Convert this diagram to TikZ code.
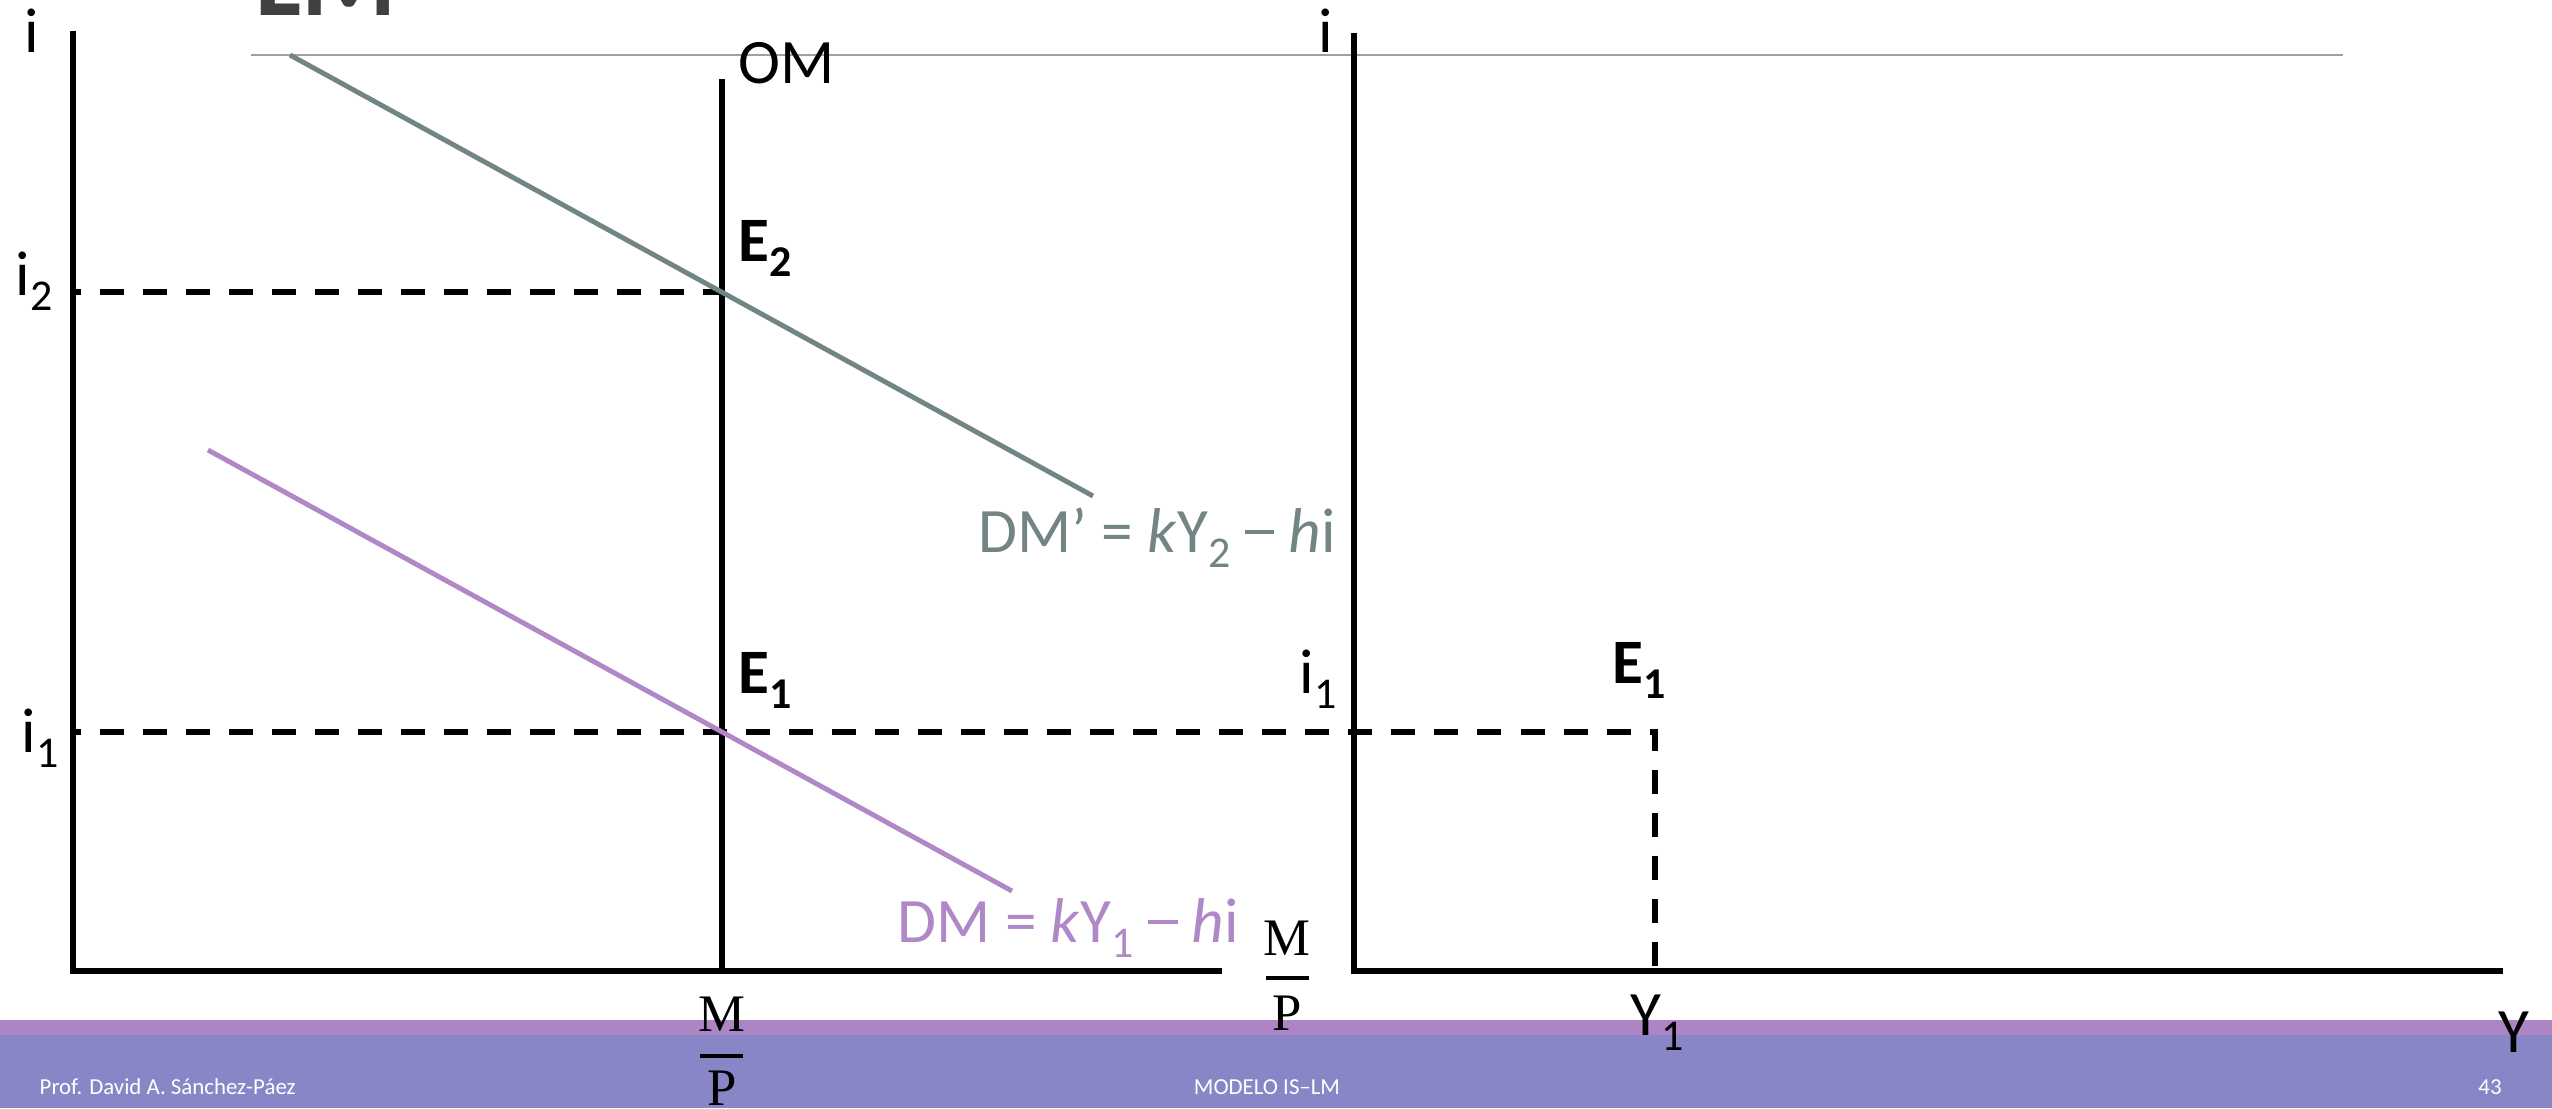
\documentclass[tikz,border=0pt]{standalone}
\usepackage{fontspec}
\setmainfont{Carlito}
\newfontfamily\fracserif{Liberation Serif}
\definecolor{dmgray}{RGB}{114,132,132}
\definecolor{dmpurple}{RGB}{176,136,200}
\definecolor{barlight}{RGB}{173,133,197}
\definecolor{bardark}{RGB}{136,134,198}
\definecolor{rulegray}{RGB}{160,160,160}
\definecolor{titlegray}{RGB}{64,64,64}
\newcommand{\lowsub}[1]{\raisebox{-4.5pt}{\fontsize{12.5}{12.5}\selectfont #1}}
\newcommand{\longminus}{\raisebox{0.29em}{\rule{0.47em}{0.065em}}}
\tikzset{
  axis/.style={line width=1.75pt, black},
  omline/.style={line width=1.5pt, black},
  dashline/.style={line width=1.7pt, black, dash pattern=on 6.83pt off 5.41pt, dash phase=4.55pt},
  rule/.style={line width=0.6pt, rulegray},
  dmtwo/.style={line width=1.4pt, dmgray},
  dmone/.style={line width=1.4pt, dmpurple},
  lbl/.style={font=\fontsize{18}{20}\selectfont, anchor=base west, inner sep=0pt},
  blbl/.style={lbl, font=\fontsize{18}{20}\selectfont\bfseries},
  serifl/.style={font=\fracserif\fontsize{15}{16}\selectfont, anchor=base, inner sep=0pt},
  fracbar/.style={line width=1.15pt, black},
  foot/.style={font=\fontsize{6.5}{7}\selectfont, text=white, inner sep=0pt, anchor=base},
  titletext/.style={font=\fontsize{31}{34}\selectfont\bfseries, text=titlegray, anchor=base west, inner sep=0pt}
}
\begin{document}
\begin{tikzpicture}[x=0.01cm,y=-0.01cm]
\useasboundingbox (0,0) rectangle (2552,1108);
\clip (0,0) rectangle (2552,1108);
% footer bands
\fill[barlight] (0,1020) rectangle (2552,1035);
\fill[bardark] (0,1035) rectangle (2552,1108);
% title (cut off at top)
\node[titletext] (title) at (255,15) {LM};
% thin gray rule
\coordinate (r1) at (251,55);
\coordinate (r2) at (2343,55);
\draw[rule] (r1) -- (r2);
% left axes
\coordinate (Ltop) at (73,31);
\coordinate (O1) at (73,971);
\coordinate (Lend) at (1222,971);
\draw[axis] (Ltop) -- (O1) -- (Lend);
% right axes
\coordinate (Rtop) at (1354,33);
\coordinate (O2) at (1354,971);
\coordinate (Rend) at (2503,971);
\draw[axis] (Rtop) -- (O2) -- (Rend);
% money supply OM
\coordinate (OMtop) at (722,79);
\coordinate (OMbot) at (722,971);
\draw[omline] (OMtop) -- (OMbot);
% equilibrium points and dashed guides
\coordinate (E2) at (722,292);
\coordinate (E1) at (722,732);
\coordinate (i2a) at (73,292);
\coordinate (i1a) at (73,732);
\coordinate (E1r) at (1655,732);
\coordinate (Y1b) at (1655,971);
\draw[dashline] (i2a) -- (E2);
\draw[dashline] (i1a) -- (E1r) -- (Y1b);
% money demand lines
\coordinate (dm2a) at (290,55);
\coordinate (dm2b) at (1093,496);
\draw[dmtwo] (dm2a) -- (dm2b);
\coordinate (dm1a) at (208,450);
\coordinate (dm1b) at (1012,891);
\draw[dmone] (dm1a) -- (dm1b);
% axis labels
\node[lbl] (iL) at (24,52) {i};
\node[lbl] (iR) at (1318,52) {i};
\node[lbl] (OM) at (738,83) {OM};
\node[lbl] (i2) at (15,295) {i\lowsub{2}};
\node[lbl] (i1L) at (21,752) {i\lowsub{1}};
\node[lbl] (i1R) at (1299,693) {i\lowsub{1}};
\node[blbl] (E2lbl) at (738,261) {E\lowsub{2}};
\node[blbl] (E1lbl) at (738,693) {E\lowsub{1}};
\node[blbl] (E1rlbl) at (1612,683) {E\lowsub{1}};
\node[lbl, text=dmgray] (DMp) at (978,552) {DM’ = \textit{k}Y\lowsub{2} \longminus{} \textit{h}i};
\node[lbl, text=dmpurple] (DM) at (897,942) {DM = \textit{k}Y\lowsub{1} \longminus{} \textit{h}i};
\node[lbl] (Y1) at (1630,1035) {Y\lowsub{1}};
\node[lbl] (Y) at (2498,1052) {Y};
% M/P fractions
\node[serifl] (mR) at (1287,955) {M};
\coordinate (bR1) at (1266,978);
\coordinate (bR2) at (1309,978);
\draw[fracbar] (bR1) -- (bR2);
\node[serifl] (pR) at (1287,1030) {P};
\node[serifl] (mL) at (722,1031) {M};
\coordinate (bL1) at (700,1056);
\coordinate (bL2) at (743,1056);
\draw[fracbar] (bL1) -- (bL2);
\node[serifl] (pL) at (722,1105) {P};
% footer texts
\node[foot, anchor=base west] (author) at (39,1094) {Prof. David A. Sánchez-Páez};
\node[foot] (course) at (1267,1094) {MODELO IS–LM};
\node[foot] (page) at (2490,1094) {43};
\end{tikzpicture}
\end{document}
